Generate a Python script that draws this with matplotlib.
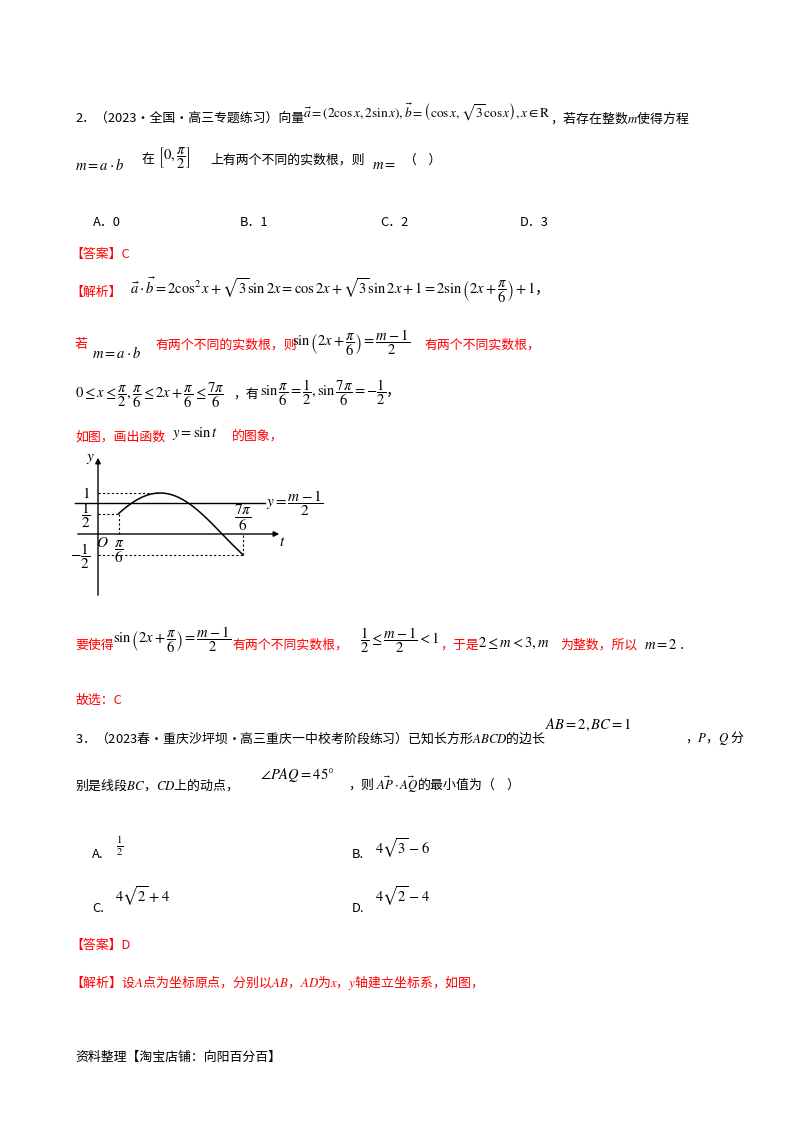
import numpy as np
import matplotlib
matplotlib.use("Agg")
import matplotlib.pyplot as plt

plt.rcParams['font.family'] = ['Noto Sans CJK SC', 'DejaVu Sans']
plt.rcParams['mathtext.fontset'] = 'stix'

# chart data
t_start, t_end = np.pi/6, 7*np.pi/6
level = 0.75            # y=(m-1)/2 line
peak_t = np.pi/2

W, H = 800, 1132
fig = plt.figure(figsize=(8, 11.32), dpi=100)
RED = '#ff0000'
FS = 9.3
MS = 10.5

def T(x, y, s, color='black', size=FS, **kw):
    fig.text(x / W, 1 - y / H, s, color=color, fontsize=size, va='center', ha='left', **kw)

T(75, 118, "2．（2023·全国·高三专题练习）向量")
T(303, 112, r"$\vec{a}=\left(2\cos x,2\sin x\right),\vec{b}=\left(\cos x,\sqrt{3}\cos x\right),x\in\mathrm{R}$", size=9.6)
T(550, 118, r"，若存在整数$m$使得方程")
T(75, 165, r"$m=a\cdot b$", size=MS)
T(142, 160, "在")
T(158, 158, r"$\left[0,\dfrac{\pi}{2}\right]$", size=MS)
T(210, 160, "上有两个不同的实数根，则")
T(372, 165, r"$m=$", size=MS)
T(404, 160, "（    ）")
for x, s in [(93, "A．0"), (240, "B．1"), (380, "C．2"), (520, "D．3")]:
    T(x, 222, s)
T(70, 254, "【答案】C", color=RED)
T(70, 292, "【解析】", color=RED)
T(130, 290, r"$\vec{a}\cdot\vec{b}=2\cos^2x+\sqrt{3}\sin 2x=\cos 2x+\sqrt{3}\sin 2x+1=2\sin\left(2x+\dfrac{\pi}{6}\right)+1$，", size=MS)
T(75, 345, "若", color=RED)
T(92, 353, r"$m=a\cdot b$", size=MS)
T(155, 345, "有两个不同的实数根，则", color=RED)
T(292, 343, r"$\sin\left(2x+\dfrac{\pi}{6}\right)=\dfrac{m-1}{2}$", size=MS)
T(424, 345, "有两个不同实数根，", color=RED)
T(75, 395, r"$0\leq x\leq\dfrac{\pi}{2},\dfrac{\pi}{6}\leq 2x+\dfrac{\pi}{6}\leq\dfrac{7\pi}{6}$", size=MS)
T(233, 395, "，有")
T(260, 393, r"$\sin\dfrac{\pi}{6}=\dfrac{1}{2},\sin\dfrac{7\pi}{6}=-\dfrac{1}{2}$，", size=MS)
T(75, 437, "如图，画出函数", color=RED)
T(172, 433, r"$y=\sin t$", size=MS)
T(232, 437, "的图象，", color=RED)

T(75, 645, "要使得", color=RED)
T(113, 640, r"$\sin\left(2x+\dfrac{\pi}{6}\right)=\dfrac{m-1}{2}$", size=MS)
T(232, 645, "有两个不同实数根，", color=RED)
T(360, 640, r"$\dfrac{1}{2}\leq\dfrac{m-1}{2}<1$", size=MS)
T(440, 645, "，于是", color=RED)
T(478, 643, r"$2\leq m<3,m$", size=MS)
T(560, 645, "为整数，所以", color=RED)
T(644, 645, r"$m=2$ .", size=MS)
T(75, 700, "故选：C", color=RED)

T(75, 738, "3．（2023春·重庆沙坪坝·高三重庆一中校考阶段练习）已知长方形$ABCD$的边长")
T(545, 725, r"$AB=2,BC=1$", size=MS)
T(685, 738, r"，$P$，$Q$ 分")
T(75, 785, r"别是线段$BC$，$CD$上的动点，")
T(260, 775, r"$\angle PAQ=45°$", size=MS)
T(348, 785, r"，则 $\vec{AP}\cdot\vec{AQ}$的最小值为（    ）")
T(92, 855, "A.")
T(116, 846, r"$\frac{1}{2}$", size=11)
T(352, 855, "B.")
T(375, 848, r"$4\sqrt{3}-6$", size=MS)
T(92, 908, "C.")
T(115, 896, r"$4\sqrt{2}+4$", size=MS)
T(352, 908, "D.")
T(375, 896, r"$4\sqrt{2}-4$", size=MS)
T(70, 945, "【答案】D", color=RED)
T(70, 982, "【解析】设$A$点为坐标原点，分别以$AB$，$AD$为$x$，$y$轴建立坐标系，如图，", color=RED)
T(75, 1057, "资料整理【淘宝店铺：向阳百分百】")

# inset chart
x0, x1, y0, y1 = 60, 330, 445, 605
ax = fig.add_axes([x0 / W, 1 - y1 / H, (x1 - x0) / W, (y1 - y0) / H])
ox, oy, sx, sy = 98, 534, 39.5, 41
ax.set_xlim((x0 - ox) / sx, (x1 - ox) / sx)
ax.set_ylim((oy - y1) / sy, (oy - y0) / sy)
ax.axis('off')
t = np.linspace(t_start, t_end, 200)
ax.plot(t, np.sin(t), color='black', lw=1.1)
ax.axhline(level, xmin=(75 - x0) / (x1 - x0), xmax=(265 - x0) / (x1 - x0), color='black', lw=1)
ax.annotate('', xy=((282 - ox) / sx, 0), xytext=((75 - ox) / sx, 0),
            arrowprops=dict(arrowstyle='-|>', color='black', lw=1, mutation_scale=8))
ax.annotate('', xy=(0, (oy - 455) / sy), xytext=(0, (oy - 598) / sy),
            arrowprops=dict(arrowstyle='-|>', color='black', lw=1, mutation_scale=8))
dk = dict(color='black', lw=0.8, ls=(0, (2, 2)))
ax.plot([0, peak_t], [1, 1], **dk)
ax.plot([0, t_start], [0.5, 0.5], **dk)
ax.plot([t_start, t_start], [0, 0.5], **dk)
ax.plot([0, t_end], [-0.5, -0.5], **dk)
ax.plot([t_end, t_end], [-0.5, 0], **dk)
ms = 11
ax.text(-0.3, 1, r"$1$", fontsize=ms, ha='center', va='center')
ax.text(-0.3, 0.45, r"$\dfrac{1}{2}$", fontsize=ms, ha='center', va='center')
ax.text(-0.45, -0.55, r"$-\dfrac{1}{2}$", fontsize=ms, ha='center', va='center')
ax.text(0.1, -0.2, r"$O$", fontsize=ms, ha='center', va='center')
ax.text(t_start, -0.42, r"$\dfrac{\pi}{6}$", fontsize=ms, ha='center', va='center')
ax.text(t_end, 0.38, r"$\dfrac{7\pi}{6}$", fontsize=ms, ha='center', va='center')
ax.text((282 - ox) / sx, -0.18, r"$t$", fontsize=ms, ha='center', va='center')
ax.text(-0.18, (oy - 458) / sy, r"$y$", fontsize=ms, ha='center', va='center')
ax.text((266 - ox) / sx, level, r"$y=\dfrac{m-1}{2}$", fontsize=ms, ha='left', va='center')

fig.savefig("out.png", dpi=100)
